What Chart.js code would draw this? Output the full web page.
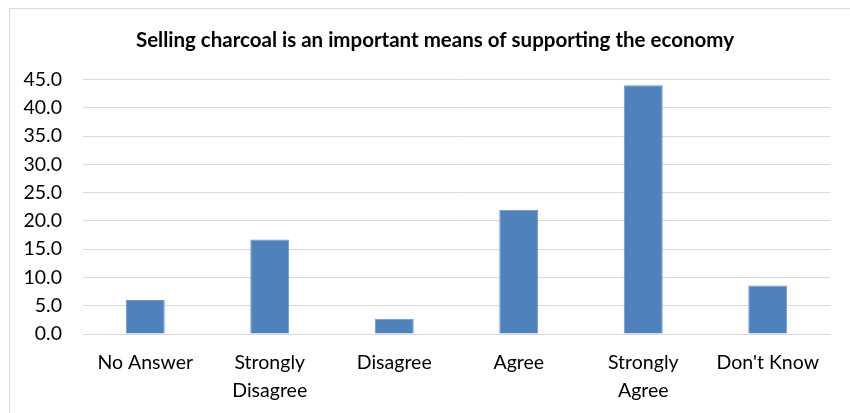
<!DOCTYPE html>
<html>
<head>
<meta charset="utf-8">
<script src="https://cdn.jsdelivr.net/npm/chart.js@4"></script>
<style>
  html, body { margin: 0; padding: 0; background: #fff; overflow: hidden; }
  #wrap { position: relative; width: 850px; height: 413px; }
  #frame { position: absolute; left: 9px; top: 8px; width: 900px; height: 500px; border: 1px solid #d9d9d9; box-sizing: border-box; }
  canvas { position: absolute; left: 0; top: 0; }
</style>
</head>
<body>
<div id="wrap">
  <div id="frame"></div>
  <canvas id="myChart" width="850" height="413"></canvas>
</div>
<script>
// chart data
const chartTitle = 'Selling charcoal is an important means of supporting the economy';
const categories = ['No Answer', ['Strongly', 'Disagree'], 'Disagree', 'Agree', ['Strongly', 'Agree'], "Don't Know"];
const percentages = [6.0, 16.7, 2.7, 22.0, 44.0, 8.6];
const yMin = 0;
const yMax = 45;
const yStep = 5;

const fontFamily = 'Lato, "Open Sans", sans-serif';

var ctx = document.getElementById('myChart').getContext('2d');
new Chart(ctx, {
  type: 'bar',
  data: {
    labels: categories,
    datasets: [{
      label: 'Percent',
      data: percentages,
      backgroundColor: '#4f81bd',
      borderColor: '#6d95c7',
      borderWidth: 1,
      barPercentage: 0.313,
      categoryPercentage: 1.0
    }]
  },
  options: {
    responsive: false,
    animation: false,
    devicePixelRatio: 1,
    layout: { padding: { left: 10, right: 20, top: 28, bottom: 8 } },
    plugins: {
      legend: { display: false },
      tooltip: { enabled: false },
      title: {
        display: true,
        // leading spaces nudge the title right, like the original
        text: '      ' + chartTitle,
        color: '#000',
        font: { family: fontFamily, size: 20.5, weight: 'bold', lineHeight: 1.2 },
        padding: { top: 0, bottom: 27 }
      }
    },
    scales: {
      x: {
        grid: { display: false },
        border: { display: false },
        ticks: {
          color: '#000',
          font: { family: fontFamily, size: 19.5, lineHeight: 1.44 },
          padding: 7,
          maxRotation: 0,
          autoSkip: false
        },
        afterFit: (scale) => { scale.height = 71; }
      },
      y: {
        min: yMin,
        max: yMax,
        grid: { color: '#d9d9d9', lineWidth: 1, drawTicks: false },
        border: { display: false },
        ticks: {
          stepSize: yStep,
          color: '#000',
          font: { family: fontFamily, size: 19.5 },
          padding: 21,
          callback: (v) => Number(v).toFixed(1)
        },
        afterFit: (scale) => { scale.width = 73; }
      }
    }
  }
});
</script>
</body>
</html>
